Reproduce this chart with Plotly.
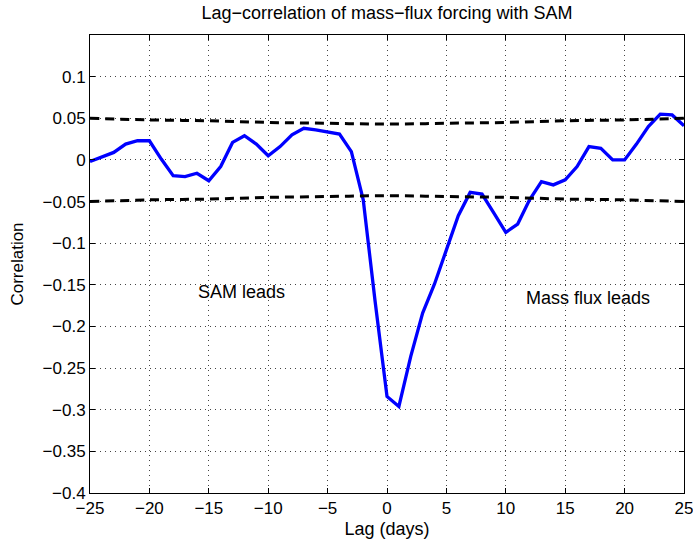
import plotly.graph_objects as go

lags = list(range(-25, 26))
corr = [-0.002, 0.004, 0.009, 0.019, 0.023, 0.023, 0.001, -0.019, -0.020, -0.016,
        -0.025, -0.008, 0.021, 0.029, 0.019, 0.005, 0.016, 0.030, 0.038, 0.036,
        0.034, 0.031, 0.010, -0.048, -0.170, -0.284, -0.296, -0.236, -0.184, -0.149,
        -0.108, -0.067, -0.039, -0.041, -0.064, -0.087, -0.077, -0.048, -0.026, -0.030,
        -0.024, -0.008, 0.016, 0.014, 0.000, 0.000, 0.019, 0.040, 0.055, 0.054, 0.041]

sig_lags = [-25, -20, -15, -10, -5, 0, 5, 10, 15, 20, 25]
sig_upper = [0.050, 0.048, 0.047, 0.045, 0.044, 0.043, 0.044, 0.045, 0.047, 0.048, 0.050]
sig_lower = [-0.050, -0.048, -0.047, -0.045, -0.044, -0.043, -0.044, -0.045, -0.047, -0.048, -0.050]

x_ticks = list(range(-25, 26, 5))
y_ticks = [-0.4, -0.35, -0.3, -0.25, -0.2, -0.15, -0.1, -0.05, 0, 0.05, 0.1]
y_labels = ["\u22120.4", "\u22120.35", "\u22120.3", "\u22120.25", "\u22120.2", "\u22120.15",
            "\u22120.1", "\u22120.05", "0", "0.05", "0.1"]
x_labels = [("\u2212" + str(-v)) if v < 0 else str(v) for v in x_ticks]

font = "Liberation Sans, Arial, Helvetica, sans-serif"

fig = go.Figure()
fig.add_trace(go.Scatter(x=lags, y=corr, mode="lines",
                         line=dict(color="#0000ff", width=3.3), showlegend=False))
fig.add_trace(go.Scatter(x=sig_lags, y=sig_upper, mode="lines", line_shape="spline",
                         line=dict(color="black", width=3, dash="9px,6px"), showlegend=False))
fig.add_trace(go.Scatter(x=sig_lags, y=sig_lower, mode="lines", line_shape="spline",
                         line=dict(color="black", width=3, dash="9px,6px"), showlegend=False))

fig.add_annotation(x=-16.1, y=-0.159, text="SAM leads", showarrow=False,
                   xanchor="left", yanchor="middle", font=dict(size=18, color="black", family=font))
fig.add_annotation(x=11.5, y=-0.166, text="Mass flux leads", showarrow=False,
                   xanchor="left", yanchor="middle", font=dict(size=18, color="black", family=font))

axis_common = dict(
    showline=True, linecolor="black", linewidth=1, mirror="allticks",
    ticks="inside", ticklen=5, tickcolor="black",
    showgrid=True, gridcolor="#444444", griddash="1px,4px", gridwidth=1,
    zeroline=False, automargin=False, ticklabeloverflow="allow",
    tickfont=dict(size=17, color="black", family=font),
)

fig.update_xaxes(range=[-25, 25], tickvals=x_ticks, ticktext=x_labels,
                 title=dict(text="Lag (days)", font=dict(size=18, color="black", family=font), standoff=4),
                 **axis_common)
fig.update_yaxes(range=[-0.4, 0.15], tickvals=y_ticks, ticktext=y_labels,
                 title=dict(text="Correlation", font=dict(size=17, color="black", family=font), standoff=14),
                 **axis_common)

fig.update_layout(
    width=693, height=546,
    margin=dict(l=90, r=9, t=35, b=53),
    paper_bgcolor="white", plot_bgcolor="white",
    title=dict(text="Lag\u2212correlation of mass\u2212flux forcing with SAM",
               x=387 / 693, xanchor="center", y=1 - 12.5 / 546, yanchor="middle",
               font=dict(size=18, color="black", family=font)),
)

fig.write_html("out.html")
